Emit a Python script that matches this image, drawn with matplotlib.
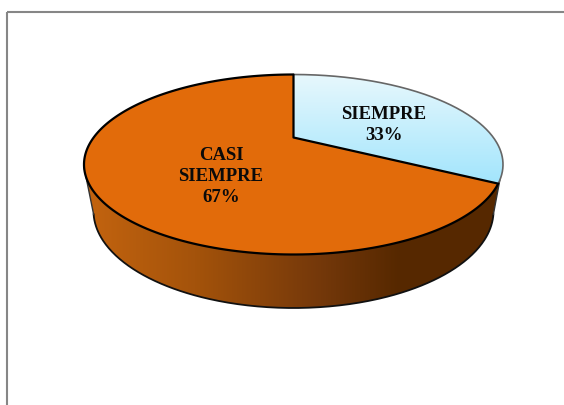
import matplotlib
matplotlib.use("Agg")
import matplotlib.pyplot as plt
import numpy as np
from matplotlib.patches import Polygon
from matplotlib.colors import LinearSegmentedColormap

categories = ["SIEMPRE", "CASI\nSIEMPRE"]
values = [33, 67]
labels = ["33%", "67%"]

W, H = 564, 406

# top of the pie, ellipse in pixels + perspective shift of the centre
cx, cy, a, b = 293.5, 165.5, 209.5, 90
k = 0.3
# bottom rim of the wall
cx2, cy2, a2, b2 = 293.5, 212, 200, 97


def project(angle):
    # angle clockwise from 12 o'clock, circle -> ellipse in perspective
    x = np.sin(angle)
    y = np.cos(angle)
    u = np.sqrt(1 - k ** 2) * x / (1 + k * y)
    v = (y + k) / (1 + k * y)
    return np.column_stack([cx + a * u, cy - b * v])


def wedge(start, end):
    t = np.linspace(start, end, 200)
    return np.vstack([[cx, cy - b * k], project(t)])


fig = plt.figure(figsize=(W / 100, H / 100), dpi=100)
ax = fig.add_axes([0, 0, 1, 1])
ax.set_xlim(0, W)
ax.set_ylim(H, 0)
ax.axis("off")

# chart frame
ax.plot([7, 7], [H, 12.5], color="#868686", lw=1.5, solid_capstyle="butt")
ax.plot([6.5, W], [12.5, 12.5], color="#868686", lw=1.5, solid_capstyle="butt")

# side wall
ang_top = np.radians(np.linspace(100, 268, 300))
ang_bot = np.radians(np.linspace(268, 92, 300))
top_x = cx + a * np.sin(ang_top)
top_y = cy - b * np.cos(ang_top)
bot_x = cx2 + a2 * np.sin(ang_bot)
bot_y = cy2 - b2 * np.cos(ang_bot)
wall = Polygon(np.column_stack([np.r_[top_x, bot_x], np.r_[top_y, bot_y]]), closed=True,
               fc="none", ec="none")
ax.add_patch(wall)
wall_cmap = LinearSegmentedColormap.from_list(
    "wall", [(0, "#c4640f"), (0.35, "#a4530b"), (0.75, "#74380a"), (1, "#562800")])
grad = np.linspace(0, 1, 256).reshape(1, -1)
im = ax.imshow(grad, cmap=wall_cmap, extent=[84, 400, 315, 160], aspect="auto", zorder=1.5)
im.set_clip_path(wall)
im2 = ax.imshow(np.ones((1, 2)), cmap=wall_cmap, vmin=0, vmax=1, extent=[400, 505, 315, 160],
                aspect="auto", zorder=1.5)
im2.set_clip_path(wall)
ax.set_xlim(0, W)
ax.set_ylim(H, 0)
ax.plot(bot_x, bot_y, color="#111111", lw=1.3, zorder=2)
ax.plot([bot_x[0], top_x[-1]], [bot_y[0], top_y[-1]], color="#333333", lw=1, zorder=2)
ax.plot([bot_x[-1], top_x[0]], [bot_y[-1], top_y[0]], color="#333333", lw=1, zorder=2)

# top slices, drawn from the values
fr = np.array(values) / sum(values)
edges = np.r_[0, np.cumsum(fr)] * 2 * np.pi

# SIEMPRE slice has a vertical gradient
blue = Polygon(wedge(edges[0], edges[1]), closed=True, fc="none", ec="none", zorder=3)
ax.add_patch(blue)
blue_cmap = LinearSegmentedColormap.from_list("blue", ["#e8f8fd", "#a2e5fc"])
im3 = ax.imshow(np.linspace(0, 1, 256).reshape(-1, 1), cmap=blue_cmap,
                extent=[285, 510, 185, 74], aspect="auto", zorder=3)
im3.set_clip_path(blue)
ax.set_xlim(0, W)
ax.set_ylim(H, 0)
arc = project(np.linspace(edges[0], edges[1], 200))
ax.plot(arc[:, 0], arc[:, 1], color="#666666", lw=1.2, zorder=3.1)

orange = Polygon(wedge(edges[1], edges[2]), closed=True, fc="#E26B0A", ec="black", lw=1.6,
                 joinstyle="round", zorder=4)
ax.add_patch(orange)

# labels
font = dict(family="Liberation Serif", weight="bold", color="#0a0a0a", fontsize=13.5,
            ha="center", va="center", linespacing=1.27, zorder=5)
ax.text(384, 125, categories[0] + "\n" + labels[0], **font)
ax.text(221, 176.5, categories[1] + "\n" + labels[1], **font)

fig.savefig("out.png", dpi=100)
